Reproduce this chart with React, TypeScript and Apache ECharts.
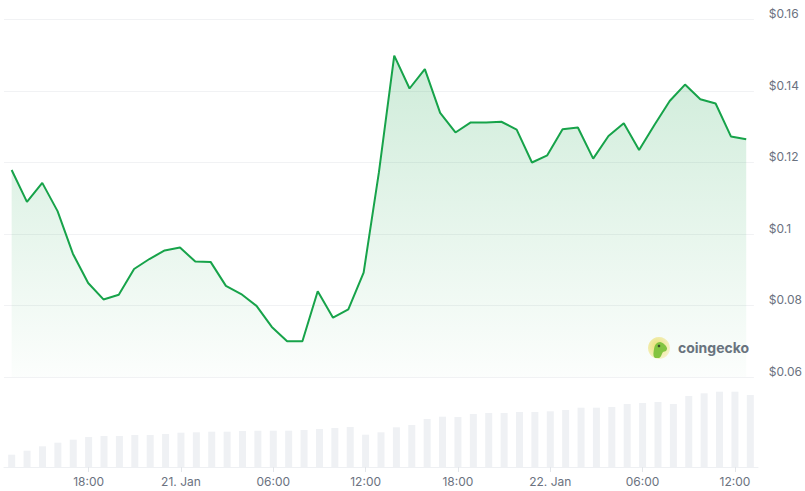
import React, { useEffect, useRef } from "react";
import * as echarts from "echarts";

// Hourly points from 20 Jan 13:00 to 22 Jan 13:00
const startDay = 20;
const startHour = 13;
const tickLabels = ["18:00", "21. Jan", "06:00", "12:00", "18:00", "22. Jan", "06:00", "12:00"];

const priceValues = [
  0.1179, 0.109, 0.1143, 0.1064, 0.0945, 0.0863, 0.0817, 0.083, 0.0902, 0.093,
  0.0954, 0.0962, 0.0923, 0.0922, 0.0855, 0.0832, 0.0799, 0.074, 0.07, 0.07,
  0.084, 0.0766, 0.0789, 0.0892, 0.1173, 0.1499, 0.1407, 0.1461, 0.1339, 0.1284,
  0.1312, 0.1312, 0.1314, 0.1292, 0.12, 0.122, 0.1293, 0.1298, 0.1211, 0.1274,
  0.131, 0.1235, 0.1305, 0.1372, 0.1418, 0.1377, 0.1365, 0.1273, 0.1265,
];

const volumeValues = [
  12.3, 16.3, 20.7, 24.3, 27.3, 30, 31, 31, 32, 32,
  33, 34.3, 34.7, 35.3, 35.3, 36, 36.3, 36.3, 36.3, 37,
  38, 39, 40, 32.3, 34.7, 39.7, 42, 48, 50.3, 50,
  53, 54, 54, 55, 55, 55.7, 57, 59.3, 59.3, 60,
  63, 64, 65, 63, 71, 73.7, 75.3, 75.3, 72,
];

const priceTicks = [0.06, 0.08, 0.1, 0.12, 0.14, 0.16];

const categories: string[] = [];
for (let i = 0; i < priceValues.length; i++) {
  const h = startHour + i;
  const day = startDay + Math.floor(h / 24);
  const hh = h % 24;
  categories.push(hh === 0 ? `${day}. Jan` : `${String(hh).padStart(2, "0")}:00`);
}

const isTick = (idx: number) =>
  categories[idx] !== undefined && tickLabels.includes(categories[idx]) && (startHour + idx) % 6 === 0;

const LINE = "#17a34a";
const FONT = "Inter, 'Noto Sans', sans-serif";

export default function App() {
  const ref = useRef<HTMLDivElement>(null);
  useEffect(() => {
    if (!ref.current) return;
    const chart = echarts.init(ref.current, null, { renderer: "svg" });
    chart.setOption({
      animation: false,
      backgroundColor: "#ffffff",
      grid: [
        { left: 4, right: 47, top: 19.5, bottom: 114 },
        { left: 4, right: 47, top: 380, bottom: 24 },
      ],
      xAxis: [
        {
          type: "category",
          gridIndex: 0,
          data: categories,
          boundaryGap: true,
          axisLine: { show: false },
          axisTick: { show: false },
          axisLabel: { show: false },
          splitLine: { show: false },
        },
        {
          type: "category",
          gridIndex: 1,
          data: categories,
          boundaryGap: true,
          axisLine: { show: true, lineStyle: { color: "#eef0f3", width: 1 } },
          axisTick: {
            show: true,
            alignWithLabel: true,
            interval: (idx: number) => isTick(idx),
            length: 5,
            lineStyle: { color: "#e3e6ea" },
          },
          axisLabel: {
            show: true,
            interval: (idx: number) => isTick(idx),
            margin: 8,
            fontSize: 12,
            fontFamily: FONT,
            color: "#6b7280",
          },
          splitLine: { show: false },
        },
      ],
      yAxis: [
        {
          type: "value",
          gridIndex: 0,
          position: "right",
          min: priceTicks[0],
          max: priceTicks[priceTicks.length - 1],
          interval: 0.02,
          axisLine: { show: false },
          axisTick: { show: false },
          axisLabel: {
            margin: 15,
            fontSize: 12,
            fontFamily: FONT,
            color: "#6b7280",
            verticalAlign: "bottom",
            lineHeight: 12,
            formatter: (v: number) => "$" + parseFloat(v.toFixed(2)),
          },
          splitLine: { show: true, lineStyle: { color: "#f1f2f4", width: 1 } },
        },
        {
          type: "value",
          gridIndex: 1,
          min: 0,
          max: 87,
          show: false,
          splitLine: { show: false },
        },
      ],
      series: [
        {
          type: "bar",
          xAxisIndex: 1,
          yAxisIndex: 1,
          data: volumeValues,
          barWidth: 7,
          itemStyle: { color: "#eff1f4" },
          silent: true,
        },
        {
          type: "line",
          xAxisIndex: 0,
          yAxisIndex: 0,
          data: priceValues,
          symbol: "none",
          lineStyle: { color: LINE, width: 2 },
          areaStyle: {
            color: new echarts.graphic.LinearGradient(0, 0, 0, 1, [
              { offset: 0, color: "rgba(23,163,74,0.30)" },
              { offset: 1, color: "rgba(23,163,74,0.02)" },
            ]),
          },
          silent: true,
        },
      ],
      graphic: [
        {
          type: "group",
          left: 648,
          top: 337,
          children: [
            {
              type: "circle",
              shape: { cx: 11, cy: 11, r: 11 },
              style: {
                fill: new echarts.graphic.RadialGradient(0.4, 0.4, 0.6, [
                  { offset: 0, color: "#f2e47a" },
                  { offset: 1, color: "#fbf3c8" },
                ]),
              },
            },
            {
              type: "polygon",
              shape: {
                points: [
                  [6, 20], [6, 12], [8, 7], [12, 5], [16, 7], [19, 11], [18, 14], [15, 15], [13, 19], [11, 21],
                ],
                smooth: 0.35,
              },
              style: { fill: "#86c540" },
            },
            {
              type: "circle",
              shape: { cx: 11, cy: 9, r: 1.3 },
              style: { fill: "#3d4a2a" },
            },
          ],
        },
        {
          type: "text",
          left: 678,
          top: 340,
          style: {
            text: "coingecko",
            fontSize: 14,
            fontWeight: "bold",
            fontFamily: FONT,
            fill: "#6b7280",
          },
        },
      ],
    });
    return () => chart.dispose();
  }, []);
  return (
    <div
      ref={ref}
      style={{ position: "fixed", left: 0, top: 0, width: 805, height: 491, background: "#fff" }}
    />
  );
}
